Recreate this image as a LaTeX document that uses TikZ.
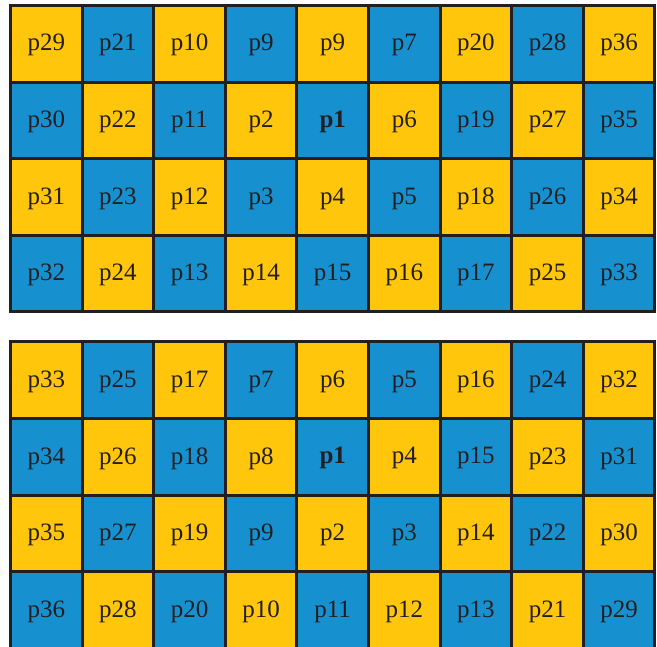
\documentclass[tikz,border=0pt]{standalone}
\usepackage{fontspec}
\setmainfont{Liberation Serif}
\definecolor{cy}{HTML}{FFC60B}
\definecolor{cb}{HTML}{1790D0}
\definecolor{ln}{HTML}{231F20}
\begin{document}
\begin{tikzpicture}[x=1pt,y=-1pt,
  cell/.style={draw=ln,line width=3pt,minimum width=71.6pt,minimum height=76.6pt,
    inner sep=0pt,font=\fontsize{25}{25}\selectfont,text=ln,anchor=center},
  lbl/.style={font=\fontsize{25}{25}\selectfont,text=ln,inner sep=0pt,yshift=-1.5pt}]
\useasboundingbox (0,0) rectangle (657,647);
\foreach \lab [count=\i from 0] in {p29,p21,p10,p9,p9,p7,p20,p28,p36,
  p30,p22,p11,p2,{\textbf{p1}},p6,p19,p27,p35,
  p31,p23,p12,p3,p4,p5,p18,p26,p34,
  p32,p24,p13,p14,p15,p16,p17,p25,p33}{
  \pgfmathtruncatemacro\c{mod(\i,9)}
  \pgfmathtruncatemacro\r{div(\i,9)}
  \pgfmathtruncatemacro\p{mod(\c+\r,2)}
  \ifnum\p=0 \def\fc{cy}\else\def\fc{cb}\fi
  \node[cell,fill=\fc] (t\i) at ({10.5+71.6*(\c+0.5)},{5.5+76.6*(\r+0.5)}) {};
  \node[lbl] (tl\i) at (t\i) {\lab};
}
\foreach \lab [count=\i from 0] in {p33,p25,p17,p7,p6,p5,p16,p24,p32,
  p34,p26,p18,p8,{\textbf{p1}},p4,p15,p23,p31,
  p35,p27,p19,p9,p2,p3,p14,p22,p30,
  p36,p28,p20,p10,p11,p12,p13,p21,p29}{
  \pgfmathtruncatemacro\c{mod(\i,9)}
  \pgfmathtruncatemacro\r{div(\i,9)}
  \pgfmathtruncatemacro\p{mod(\c+\r,2)}
  \ifnum\p=0 \def\fc{cy}\else\def\fc{cb}\fi
  \node[cell,fill=\fc] (b\i) at ({10.5+71.6*(\c+0.5)},{342+76.6*(\r+0.5)}) {};
  \node[lbl] (bl\i) at (b\i) {\lab};
}
\end{tikzpicture}
\end{document}
